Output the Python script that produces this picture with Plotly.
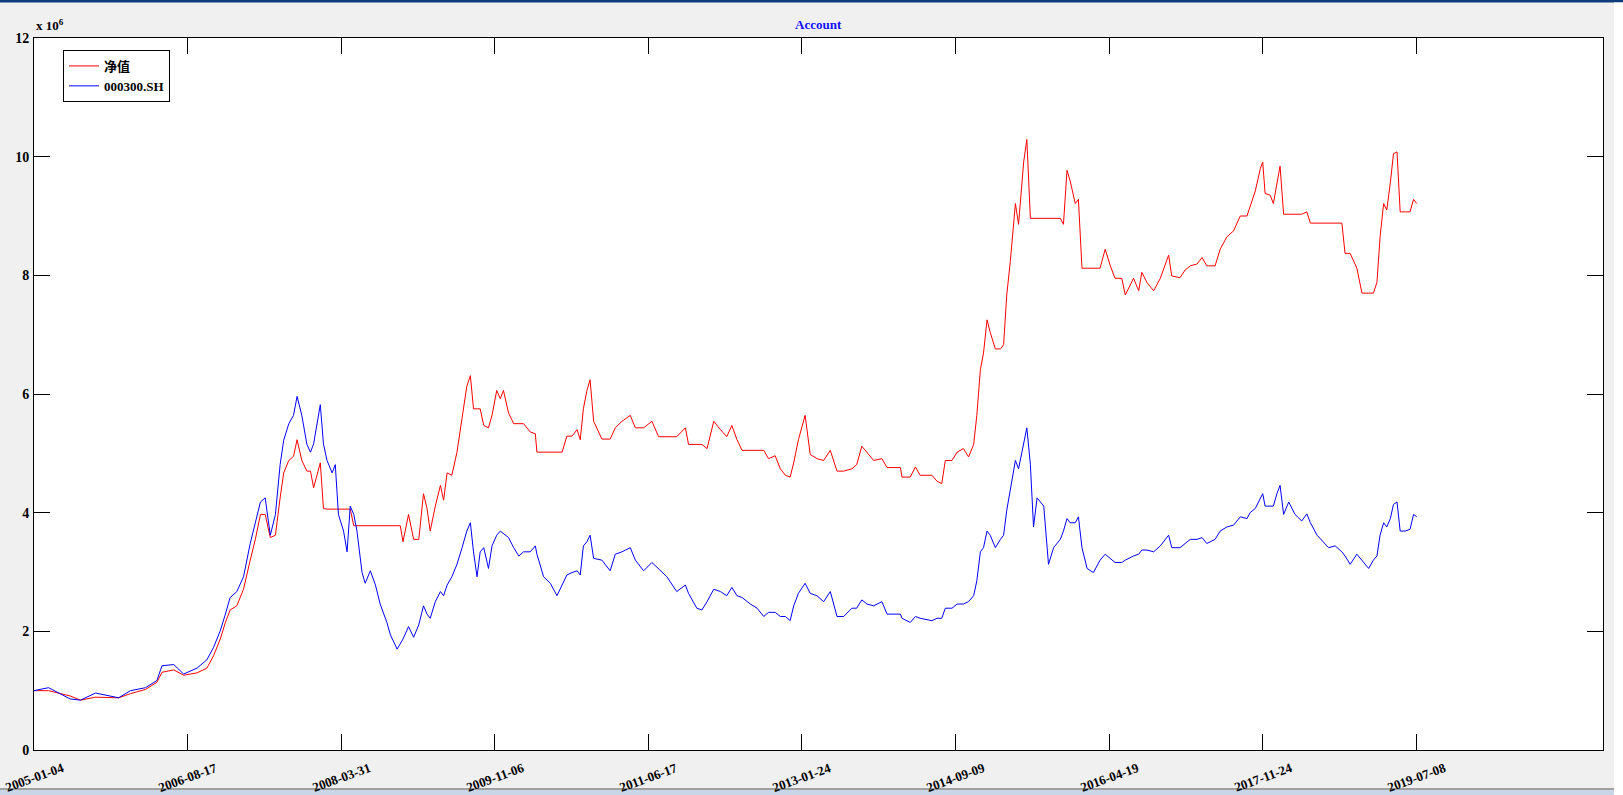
import plotly.graph_objects as go

# trading-day index (0 = 2005-01-04) of each sampled point
day_index = [0, 37, 92, 118, 156, 215, 245, 283, 312, 325, 355, 380, 414, 439, 456, 473, 486, 498, 515, 532,
             549, 562, 575, 587, 600, 613, 625, 634, 647, 659, 668, 680, 693,
             702, 710, 727, 735, 744, 757, 765, 773, 786, 795, 803, 812, 820, 833, 841, 854, 867, 879, 896, 905,
             922, 930, 937, 951, 964, 977, 989, 998, 1006, 1019, 1032, 1040, 1049, 1061, 1074, 1087, 1099, 1108,
             1116, 1125, 1133, 1142, 1154, 1163, 1175, 1184, 1192, 1205, 1218, 1231, 1243, 1260, 1273, 1277, 1294,
             1311, 1328, 1341, 1353, 1366, 1379, 1387, 1395, 1404, 1412,
             1421, 1442, 1463, 1476, 1493, 1514, 1527, 1548, 1569, 1586, 1607, 1632, 1654, 1662, 1683, 1696, 1709,
             1726, 1743, 1759, 1772, 1785, 1798, 1819, 1836, 1853, 1865, 1882, 1895, 1908, 1920, 1929, 1941, 1958,
             1971, 1988, 2005, 2022, 2039, 2056, 2077, 2089, 2102, 2115, 2132,
             2153, 2166, 2200, 2204, 2225, 2238, 2250, 2280, 2293, 2305, 2314, 2331, 2344, 2360, 2373, 2386, 2394,
             2403, 2411, 2420, 2428, 2441, 2454, 2462, 2470, 2479, 2492, 2500, 2513, 2521, 2530, 2538, 2547, 2564,
             2576, 2589, 2606, 2614, 2623, 2631, 2644, 2652, 2661, 2674, 2690, 2707, 2720, 2733, 2745, 2762, 2771,
             2792, 2805, 2813, 2826, 2843,
             2860, 2881, 2889, 2910, 2923, 2936, 2953, 2966, 2978, 2999, 3012, 3029, 3046, 3063, 3080, 3088, 3101,
             3114, 3120, 3126, 3139, 3147, 3156, 3164, 3173, 3186, 3202, 3219, 3232, 3241, 3258, 3274, 3287, 3304,
             3321, 3329, 3342, 3359, 3372, 3389, 3401, 3410, 3418, 3427, 3435, 3444, 3452, 3461, 3469, 3482, 3494,
             3503, 3511]

# 净值 (net value), in units of 10^6
nav = [1.00, 1.00, 0.91, 0.84, 0.89, 0.88, 0.95, 1.02, 1.14, 1.31, 1.35, 1.26, 1.30, 1.38, 1.59, 1.87, 2.15,
       2.36, 2.43, 2.71, 3.20, 3.55, 3.97, 3.97, 3.58, 3.62, 4.25, 4.67, 4.88, 4.95, 5.23, 4.88, 4.70,
       4.70, 4.42, 4.84, 4.07, 4.06, 4.06, 4.06, 4.06, 4.06, 4.06, 4.06, 3.78, 3.78, 3.78, 3.78, 3.78, 3.78,
       3.78, 3.78, 3.78, 3.78, 3.78, 3.51, 3.97, 3.55, 3.55, 4.32, 4.07, 3.69, 4.11, 4.46, 4.21, 4.67, 4.63,
       5.02, 5.64, 6.13, 6.31, 5.75, 5.75, 5.75, 5.47, 5.43, 5.64, 6.06, 5.92, 6.06, 5.68, 5.50, 5.50, 5.50,
       5.36, 5.33, 5.02, 5.02, 5.02, 5.02, 5.02, 5.29, 5.29, 5.40, 5.23, 5.75, 6.06, 6.24,
       5.54, 5.24, 5.24, 5.43, 5.54, 5.64, 5.43, 5.43, 5.54, 5.28, 5.28, 5.28, 5.43, 5.15, 5.15, 5.15, 5.08,
       5.54, 5.40, 5.28, 5.47, 5.23, 5.05, 5.05, 5.05, 5.05, 4.91, 4.96, 4.74, 4.63, 4.60, 4.84, 5.23, 5.64,
       4.98, 4.91, 4.88, 5.05, 4.70, 4.70, 4.74, 4.81, 5.12, 5.02, 4.88,
       4.91, 4.76, 4.76, 4.60, 4.60, 4.77, 4.63, 4.63, 4.53, 4.49, 4.88, 4.88, 5.02, 5.08, 4.94, 5.15, 5.64,
       6.41, 6.69, 7.25, 7.04, 6.76, 6.76, 6.83, 7.67, 8.23, 9.21, 8.86, 9.91, 10.29, 8.96, 8.96, 8.96, 8.96,
       8.96, 8.96, 8.96, 8.86, 9.77, 9.59, 9.21, 9.28, 8.12, 8.12, 8.12, 8.12, 8.44, 8.16, 7.95, 7.95, 7.67,
       7.95, 7.74, 8.05, 7.88, 7.74,
       7.95, 8.34, 7.99, 7.96, 8.09, 8.16, 8.19, 8.30, 8.16, 8.16, 8.44, 8.65, 8.75, 9.00, 9.00, 9.17, 9.42,
       9.80, 9.91, 9.38, 9.35, 9.21, 9.56, 9.84, 9.03, 9.03, 9.03, 9.03, 9.07, 8.88, 8.88, 8.88, 8.88, 8.88,
       8.88, 8.37, 8.37, 8.12, 7.70, 7.70, 7.70, 7.88, 8.65, 9.21, 9.10, 9.56, 10.05, 10.08, 9.07, 9.07, 9.07,
       9.28, 9.21]

# 000300.SH benchmark, in units of 10^6
hs300 = [1.00, 1.05, 0.86, 0.84, 0.96, 0.88, 1.00, 1.05, 1.17, 1.42, 1.44, 1.28, 1.38, 1.52, 1.73, 2.01, 2.29,
         2.57, 2.67, 2.92, 3.48, 3.83, 4.18, 4.25, 3.62, 3.97, 4.81, 5.22, 5.50, 5.64, 5.96, 5.64, 5.15,
         5.02, 5.16, 5.82, 5.16, 4.88, 4.67, 4.81, 3.97, 3.69, 3.34, 4.11, 3.97, 3.69, 2.99, 2.81, 3.02, 2.78,
         2.46, 2.15, 1.94, 1.70, 1.80, 1.87, 2.08, 1.90, 2.11, 2.43, 2.29, 2.22, 2.50, 2.67, 2.60, 2.78, 2.92,
         3.13, 3.41, 3.69, 3.83, 3.34, 2.92, 3.34, 3.41, 3.06, 3.44, 3.62, 3.69, 3.65, 3.58, 3.41, 3.27, 3.34,
         3.34, 3.44, 3.30, 2.92, 2.81, 2.60, 2.78, 2.95, 2.99, 3.02, 2.95, 3.44, 3.51, 3.62,
         3.23, 3.20, 3.02, 3.30, 3.34, 3.41, 3.20, 3.02, 3.16, 3.06, 2.92, 2.67, 2.78, 2.64, 2.39, 2.36, 2.50,
         2.71, 2.67, 2.60, 2.74, 2.60, 2.57, 2.46, 2.39, 2.25, 2.32, 2.32, 2.25, 2.25, 2.18, 2.43, 2.64, 2.81,
         2.64, 2.60, 2.50, 2.67, 2.25, 2.25, 2.39, 2.39, 2.53, 2.46, 2.43,
         2.50, 2.29, 2.29, 2.22, 2.15, 2.25, 2.22, 2.18, 2.22, 2.22, 2.39, 2.39, 2.46, 2.46, 2.50, 2.60, 2.85,
         3.34, 3.41, 3.69, 3.62, 3.41, 3.55, 3.62, 4.04, 4.39, 4.88, 4.74, 5.16, 5.43, 4.81, 3.76, 4.25, 4.11,
         3.13, 3.41, 3.55, 3.69, 3.90, 3.83, 3.83, 3.93, 3.41, 3.06, 2.99, 3.20, 3.30, 3.23, 3.16, 3.16, 3.20,
         3.27, 3.30, 3.37, 3.37, 3.34,
         3.44, 3.62, 3.41, 3.41, 3.48, 3.55, 3.55, 3.58, 3.48, 3.55, 3.69, 3.76, 3.79, 3.93, 3.90, 4.00, 4.07,
         4.25, 4.32, 4.11, 4.11, 4.11, 4.32, 4.46, 3.97, 4.18, 3.97, 3.86, 3.98, 3.83, 3.62, 3.51, 3.41, 3.44,
         3.34, 3.27, 3.13, 3.30, 3.20, 3.06, 3.20, 3.27, 3.62, 3.83, 3.76, 3.90, 4.14, 4.18, 3.69, 3.69, 3.72,
         3.97, 3.93]

tick_index = [0, 390, 780, 1170, 1560, 1950, 2340, 2730, 3120, 3510]
tick_dates = ["2005-01-04", "2006-08-17", "2008-03-31", "2009-11-06", "2011-06-17",
              "2013-01-24", "2014-09-09", "2016-04-19", "2017-11-24", "2019-07-08"]
y_ticks = [0, 2, 4, 6, 8, 10, 12]

SERIF = "Liberation Serif, Times New Roman, Noto Sans CJK SC, serif"
W, H = 1623, 795
L, R, T, B = 34, 20, 38, 45
pw, ph = W - L - R, H - T - B

fig = go.Figure()
fig.add_trace(go.Scatter(x=day_index, y=nav, mode="lines", name="净值",
                         line=dict(color="#ff0000", width=1)))
fig.add_trace(go.Scatter(x=day_index, y=hs300, mode="lines", name="000300.SH",
                         line=dict(color="#0000ff", width=1)))

axis_common = dict(showline=True, linecolor="#000000", linewidth=1, mirror="ticks",
                   ticks="inside", ticklen=16, tickcolor="#000000", tickwidth=1,
                   showgrid=False, zeroline=False, automargin=False)

fig.update_xaxes(range=[0, 3984], tickvals=tick_index, showticklabels=False, **axis_common)
fig.update_yaxes(range=[0, 12], tickvals=y_ticks, ticktext=[str(v) for v in y_ticks],
                 tickfont=dict(family=SERIF, size=14, color="#000000", weight="bold"),
                 ticklabelstandoff=1, **axis_common)


def px_x(X):
    return (X - L) / pw


def px_y(Y):
    return (H - B - Y) / ph


annotations = []
for xi, lab in zip(tick_index, tick_dates):
    annotations.append(dict(x=xi, xref="x", y=0, yref="paper", yshift=-27, text=lab,
                            textangle=-20, showarrow=False, xanchor="center", yanchor="middle",
                            borderpad=0,
                            font=dict(family=SERIF, size=13, color="#000000", weight="bold")))
annotations.append(dict(x=0, xref="paper", y=1, yref="paper", yshift=3, text="x 10<sup>6</sup>",
                        showarrow=False, xanchor="left", yanchor="bottom",
                        font=dict(family=SERIF, size=13, color="#000000", weight="bold")))
annotations.append(dict(x=0.5, xref="paper", y=px_y(24), yref="paper", text="Account",
                        showarrow=False, xanchor="center", yanchor="middle",
                        font=dict(family=SERIF, size=13, color="#1010ff", weight="bold")))

shapes = [
    dict(type="rect", xref="paper", yref="paper", x0=px_x(0), x1=px_x(W), y0=px_y(2.5), y1=px_y(0),
         fillcolor="#0e3b7c", line=dict(width=0), layer="below"),
    dict(type="rect", xref="paper", yref="paper", x0=px_x(1614), x1=px_x(W), y0=px_y(H), y1=px_y(2.5),
         fillcolor="#ffffff", line=dict(width=0), layer="below"),
    dict(type="rect", xref="paper", yref="paper", x0=px_x(0), x1=px_x(1614), y0=px_y(790), y1=px_y(788),
         fillcolor="#a0a0a0", line=dict(width=0), layer="below"),
    dict(type="rect", xref="paper", yref="paper", x0=px_x(0), x1=px_x(1614), y0=px_y(H), y1=px_y(790),
         fillcolor="#c8d6e8", line=dict(width=0), layer="below"),
]

fig.update_layout(
    width=W, height=H,
    margin=dict(l=L, r=R, t=T, b=B, autoexpand=False),
    paper_bgcolor="#f0f0f0",
    plot_bgcolor="#ffffff",
    legend=dict(x=px_x(63), y=px_y(50), xanchor="left", yanchor="top",
                bgcolor="#ffffff", bordercolor="#000000", borderwidth=1,
                font=dict(family=SERIF, size=13, color="#000000", weight="bold"),
                tracegroupgap=0, itemwidth=30),
    showlegend=True,
    annotations=annotations,
    shapes=shapes,
)

# remove the browser's default 8px body margin so the figure fills the window exactly
fig.write_html("out.html",
               config={"displayModeBar": False},
               post_script="document.body.style.margin='0';document.body.style.padding='0';"
                           "document.body.style.overflow='hidden';")
